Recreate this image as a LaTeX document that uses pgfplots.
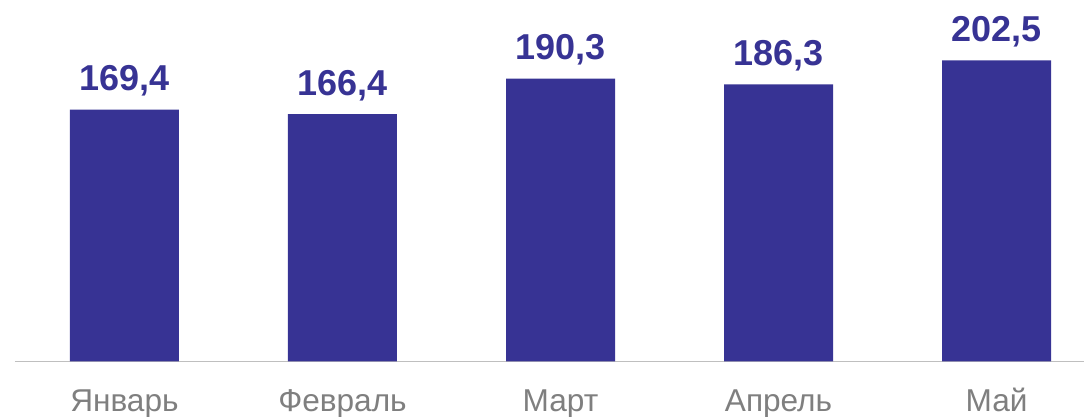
\documentclass[border=0pt]{standalone}
\usepackage{fontspec}
\setmainfont{Liberation Sans}
\usepackage{pgfplots}
\pgfplotsset{compat=1.18}
\definecolor{barblue}{HTML}{373394}
\definecolor{axisgray}{HTML}{BFBFBF}
\definecolor{labelgray}{HTML}{7F7F7F}
\begin{document}
\begin{tikzpicture}
\path[use as bounding box] (-7.5pt,-27.75pt) rectangle (534.5pt,180.75pt);
\begin{axis}[
	scale only axis,
	width=534.5pt,
	height=180.75pt,
	anchor=south west,
	at={(0pt,0pt)},
	ybar,
	bar width=0.5,
	xmin=-0.502, xmax=4.401,
	ymin=0, ymax=243.1,
	hide y axis,
	axis x line*=bottom,
	x axis line style={axisgray, line width=0.75pt},
	xtick=data,
	xticklabels={Январь,Февраль,Март,Апрель,Май},
	major tick length=0pt,
	xticklabel style={font=\fontsize{15.8}{18}\selectfont, text=labelgray, anchor=base, yshift=-25pt},
	nodes near coords,
	nodes near coords style={font=\fontsize{18}{20}\selectfont\bfseries, text=barblue, anchor=base, inner sep=0pt, yshift=9.5pt},
	point meta=explicit symbolic,
	clip=false,
]
	\addplot[fill=barblue, draw=none] table [meta=label] {
		x y label
		0 169.4 169,4
		1 166.4 166,4
		2 190.3 190,3
		3 186.3 186,3
		4 202.5 202,5
	};
\end{axis}
\end{tikzpicture}
\end{document}
